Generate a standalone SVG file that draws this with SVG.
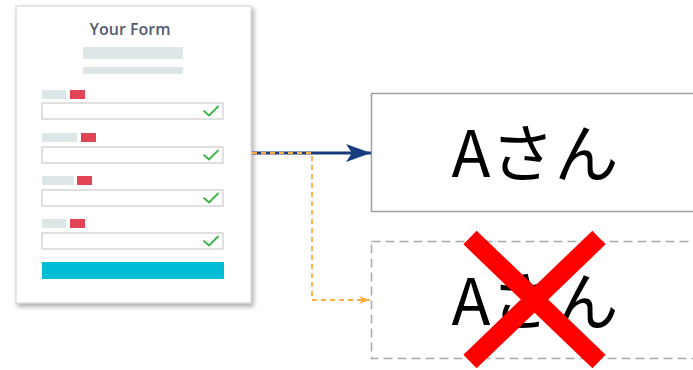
<svg xmlns="http://www.w3.org/2000/svg" width="693" height="370" viewBox="0 0 693 370">
<style>
.lbl{fill:#dde7e8}
.req{fill:#e04455}
.inp{fill:#fff;stroke:#d6d6d6;stroke-width:1.5}
.chk{fill:none;stroke:#3cb54a;stroke-width:1.8;stroke-linecap:round;stroke-linejoin:round}
.bar{fill:#dde7e8}
.big{font-family:"Noto Sans CJK JP","Noto Sans",sans-serif;font-size:64px;fill:#000;text-anchor:middle}
</style>
<defs>
<filter id="sh" x="-10%" y="-10%" width="125%" height="125%">
<feDropShadow dx="2" dy="3" stdDeviation="2.5" flood-color="#000" flood-opacity="0.35"/>
</filter>
<marker id="ab" markerWidth="26" markerHeight="20" refX="25" refY="10" orient="auto" markerUnits="userSpaceOnUse">
<path d="M0,1 L25,10 L0,19 L6,10 Z" fill="#173d7e"/>
</marker>
<marker id="ao" markerWidth="12" markerHeight="8" refX="11" refY="4" orient="auto" markerUnits="userSpaceOnUse">
<path d="M0,0 L11,4 L0,8 L3,4 Z" fill="#ffad3b"/>
</marker>
</defs>
<g id="form">
<rect x="16" y="6" width="235" height="297" fill="#fff" stroke="#d0d0d0" stroke-width="1" filter="url(#sh)"/>
<text x="130" y="35" font-family="Open Sans, Lato, sans-serif" font-size="16" font-weight="600" fill="#525c70" text-anchor="middle">Your Form</text>
<rect class="bar" x="83" y="47" width="100" height="12"/>
<rect class="bar" x="83" y="67" width="100" height="7"/>
<rect class="lbl" x="42" y="90" width="24" height="9"/><rect class="req" x="70" y="90" width="15" height="9"/>
<rect class="inp" x="42" y="103" width="181" height="16"/><path class="chk" d="M204,111 L209,115.5 L218,106.5"/>
<rect class="lbl" x="42" y="133" width="35" height="9"/><rect class="req" x="81" y="133" width="15" height="9"/>
<rect class="inp" x="42" y="147" width="181" height="16"/><path class="chk" d="M204,155 L209,159.5 L218,150.5"/>
<rect class="lbl" x="42" y="176" width="32" height="9"/><rect class="req" x="77" y="176" width="15" height="9"/>
<rect class="inp" x="42" y="190" width="181" height="16"/><path class="chk" d="M204,198 L209,202.5 L218,193.5"/>
<rect class="lbl" x="42" y="219" width="24" height="9"/><rect class="req" x="70" y="219" width="15" height="9"/>
<rect class="inp" x="42" y="233" width="181" height="16"/><path class="chk" d="M204,241 L209,245.5 L218,236.5"/>
<rect x="42" y="262" width="182" height="17" fill="#00bcd4"/>
</g>
<g id="box1">
<rect x="371.5" y="93.5" width="330" height="118" fill="#fff" stroke="#a0a0a0" stroke-width="1.5"/>
<text class="big" x="535" y="177">Aさん</text>
</g>
<g id="box2">
<rect x="371.5" y="241.5" width="330" height="117" fill="#fff" stroke="#a8a8a8" stroke-width="1.5" stroke-dasharray="9 5"/>
<text class="big" x="535" y="325">Aさん</text>
<g stroke="#ff0000" stroke-width="19" stroke-linecap="butt">
<line x1="470" y1="237.5" x2="599" y2="361.5"/>
<line x1="599" y1="237.5" x2="470" y2="361.5"/>
</g>
</g>
<g id="connectors">
<line x1="252" y1="153" x2="371" y2="153" stroke="#173d7e" stroke-width="3" marker-end="url(#ab)"/>
<path d="M252,153 H312 V300 H370" fill="none" stroke="#ffad3b" stroke-width="1.8" stroke-dasharray="5 4" marker-end="url(#ao)"/>
</g>
</svg>
